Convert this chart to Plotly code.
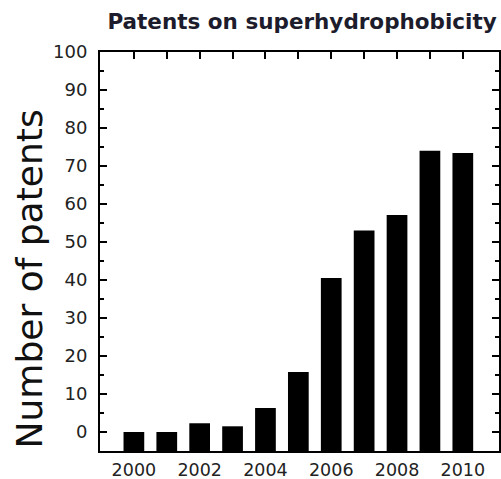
import plotly.graph_objects as go

years = [2000, 2001, 2002, 2003, 2004, 2005, 2006, 2007, 2008, 2009, 2010]
patents = [0, 0, 2.3, 1.5, 6.3, 15.8, 40.5, 53, 57.1, 74, 73.4]
year_labels = ["2000", "", "2002", "", "2004", "", "2006", "", "2008", "", "2010"]
y_ticks = list(range(0, 101, 10))

axis_floor = -5  # bars rise from the bottom frame edge

fig = go.Figure(
    go.Bar(
        x=years,
        y=[p - axis_floor for p in patents],
        base=axis_floor,
        width=0.63,
        marker=dict(color="black", line=dict(width=0)),
        customdata=patents,
        hovertemplate="%{x}: %{customdata}<extra></extra>",
    )
)

font = "DejaVu Sans, Verdana, sans-serif"
fig.update_layout(
    width=501,
    height=479,
    margin=dict(l=100, r=2, t=52, b=28),
    paper_bgcolor="white",
    plot_bgcolor="white",
    showlegend=False,
    font=dict(family=font, color="#222", size=18),
    title=dict(
        text="<b>Patents on superhydrophobicity</b>",
        x=0.603,
        xanchor="center",
        y=0.955,
        yanchor="middle",
        font=dict(family=font, size=21.5, color="#1c1c2c"),
        automargin=False,
    ),
    annotations=[
        dict(
            text="Number of patents",
            textangle=-90,
            xref="paper",
            yref="paper",
            x=0,
            y=0.43,
            xanchor="center",
            yanchor="middle",
            xshift=-71,
            showarrow=False,
            font=dict(family=font, size=36, color="#111"),
        )
    ],
)

fig.update_xaxes(
    range=[1998.97, 2011.1],
    tickmode="array",
    tickvals=years,
    ticktext=year_labels,
    ticks="inside",
    ticklen=7,
    tickwidth=2,
    tickcolor="black",
    showline=True,
    linewidth=2,
    linecolor="black",
    mirror="allticks",
    showgrid=False,
    zeroline=False,
    tickfont=dict(size=17.5),
    ticklabelstandoff=2,
    automargin=False,
)

fig.update_yaxes(
    range=[axis_floor, 100],
    tickmode="array",
    tickvals=y_ticks,
    ticks="inside",
    ticklen=7,
    tickwidth=2,
    tickcolor="black",
    minor=dict(dtick=5, tick0=0, ticks="inside", ticklen=4, tickwidth=2, tickcolor="black", showgrid=False),
    showline=True,
    linewidth=2,
    linecolor="black",
    mirror="allticks",
    showgrid=False,
    zeroline=False,
    tickfont=dict(size=18),
    ticklabelstandoff=7,
    automargin=False,
)

fig.write_html("out.html")
